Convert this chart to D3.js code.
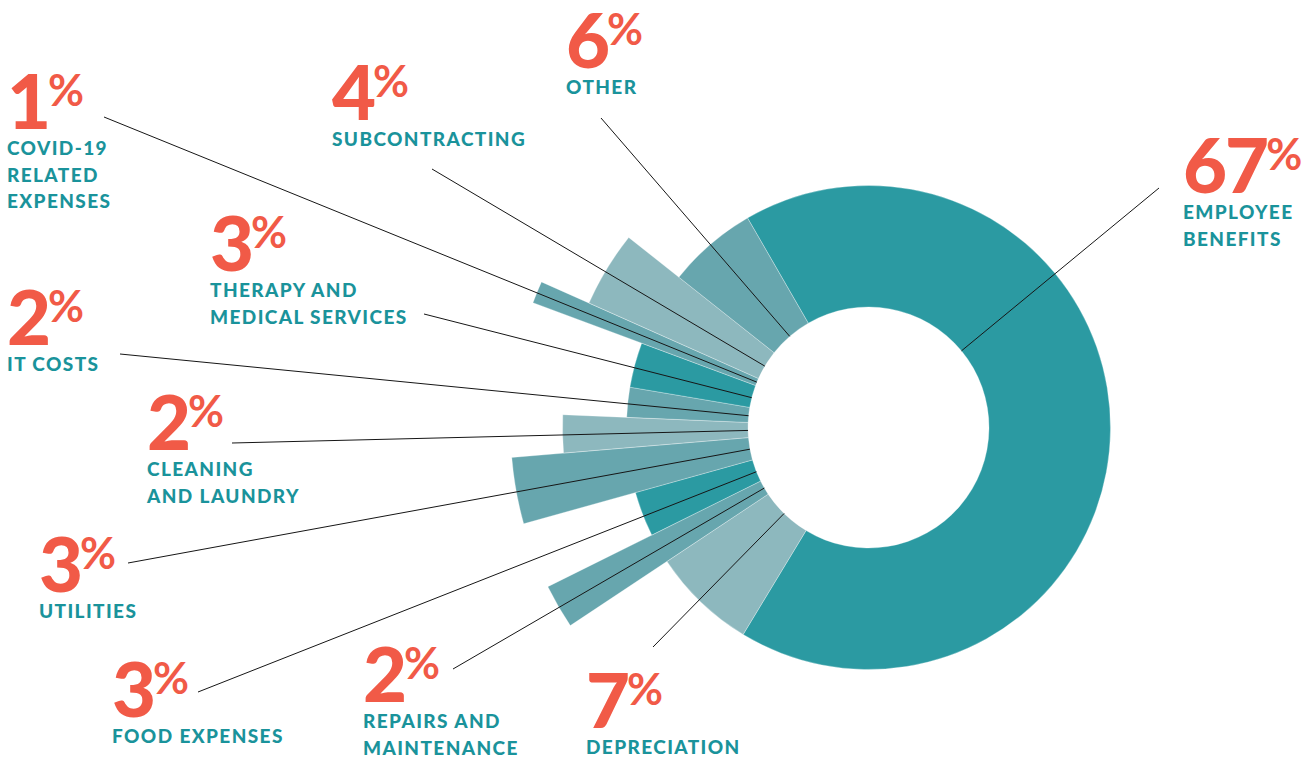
<!doctype html>
<html>
<head>
<meta charset="utf-8">
<script src="https://cdn.jsdelivr.net/npm/d3@7"></script>
<style>
  body { margin: 0; background: #fff; }
  svg { display: block; font-family: Lato, "Open Sans", sans-serif; }
</style>
</head>
<body>
<script>
  // data, clockwise from the top-left edge of the big slice
  var categories = ["EMPLOYEE\nBENEFITS", "DEPRECIATION", "REPAIRS AND\nMAINTENANCE", "FOOD EXPENSES",
                    "UTILITIES", "CLEANING\nAND LAUNDRY", "IT COSTS", "THERAPY AND\nMEDICAL SERVICES",
                    "COVID-19\nRELATED\nEXPENSES", "SUBCONTRACTING", "OTHER"];
  var percents = [67, 7, 2, 3, 3, 2, 2, 3, 1, 4, 6];

  // styling per slice
  var shades = ["#2b9aa2", "#8db8be", "#67a6ae", "#2b9aa2", "#67a6ae", "#8db8be",
                "#67a6ae", "#2b9aa2", "#67a6ae", "#8db8be", "#67a6ae"];
  var reach = [0, 0, 2, 0, 2, 1, 0, 0, 2, 1, 0];

  // label layout: left x / baseline of the big number, and where the leader starts
  var labelAt = [[1183, 193], [586, 728], [363, 702], [112, 717], [39, 592], [147, 450],
                 [7, 345], [210, 271], [7, 129], [332, 120], [566, 68]];
  var leaderFrom = [[1159, 188], [653, 647], [453, 669], [198, 692], [128, 563], [232, 443],
                    [120, 354], [424, 314], [104, 117], [432, 169], [601, 118]];

  var width = 1315, height = 758;
  var cx = 868.5, cy = 427.5, innerR = 120.5;

  var outerR = d3.scaleOrdinal().domain([0, 1, 2]).range([242, 306, 358]);

  var rows = categories.map(function(c, i) { return {name: c, value: percents[i]}; });

  var pie = d3.pie()
      .sort(null)
      .value(function(d) { return d.value; })
      .startAngle(-30 * Math.PI / 180)
      .endAngle(330 * Math.PI / 180);

  var arc = d3.arc()
      .innerRadius(innerR)
      .outerRadius(function(d) { return outerR(reach[d.index]); });

  var svg = d3.select("body").append("svg")
      .attr("width", width)
      .attr("height", height);

  svg.append("g")
      .attr("transform", "translate(" + cx + "," + cy + ")")
      .selectAll("path")
      .data(pie(rows))
      .join("path")
      .attr("d", arc)
      .attr("fill", function(d) { return shades[d.index]; })
      .attr("stroke", "#fff")
      .attr("stroke-width", 0.5)
      .attr("stroke-opacity", 0.6);

  // leader lines run toward the centre and stop at the hole
  svg.append("g")
      .selectAll("line")
      .data(leaderFrom)
      .join("line")
      .attr("x1", function(p) { return p[0]; })
      .attr("y1", function(p) { return p[1]; })
      .attr("x2", function(p) {
        var dx = p[0] - cx, dy = p[1] - cy;
        return cx + dx / Math.hypot(dx, dy) * innerR;
      })
      .attr("y2", function(p) {
        var dx = p[0] - cx, dy = p[1] - cy;
        return cy + dy / Math.hypot(dx, dy) * innerR;
      })
      .attr("stroke", "#161616")
      .attr("stroke-width", 1);

  var labels = svg.append("g")
      .selectAll("g")
      .data(rows)
      .join("g")
      .attr("transform", function(d, i) { return "translate(" + labelAt[i][0] + "," + labelAt[i][1] + ")"; });

  var big = labels.append("text")
      .attr("fill", "#f15a47");
  big.append("tspan")
      .attr("font-size", 76)
      .attr("font-weight", 900)
      .attr("letter-spacing", -2)
      .text(function(d) { return d.value; });
  big.append("tspan")
      .attr("font-size", 44)
      .attr("font-weight", 700)
      .attr("dy", -23)
      .attr("dx", -1)
      .text("%");

  labels.append("text")
      .attr("fill", "#1a939b")
      .attr("font-size", 19)
      .attr("font-weight", 900)
      .attr("letter-spacing", 1.4)
      .selectAll("tspan")
      .data(function(d) { return d.name.split("\n"); })
      .join("tspan")
      .attr("x", 0)
      .attr("y", function(t, k) { return 26 + k * 26.5; })
      .text(function(t) { return t; });
</script>
</body>
</html>
